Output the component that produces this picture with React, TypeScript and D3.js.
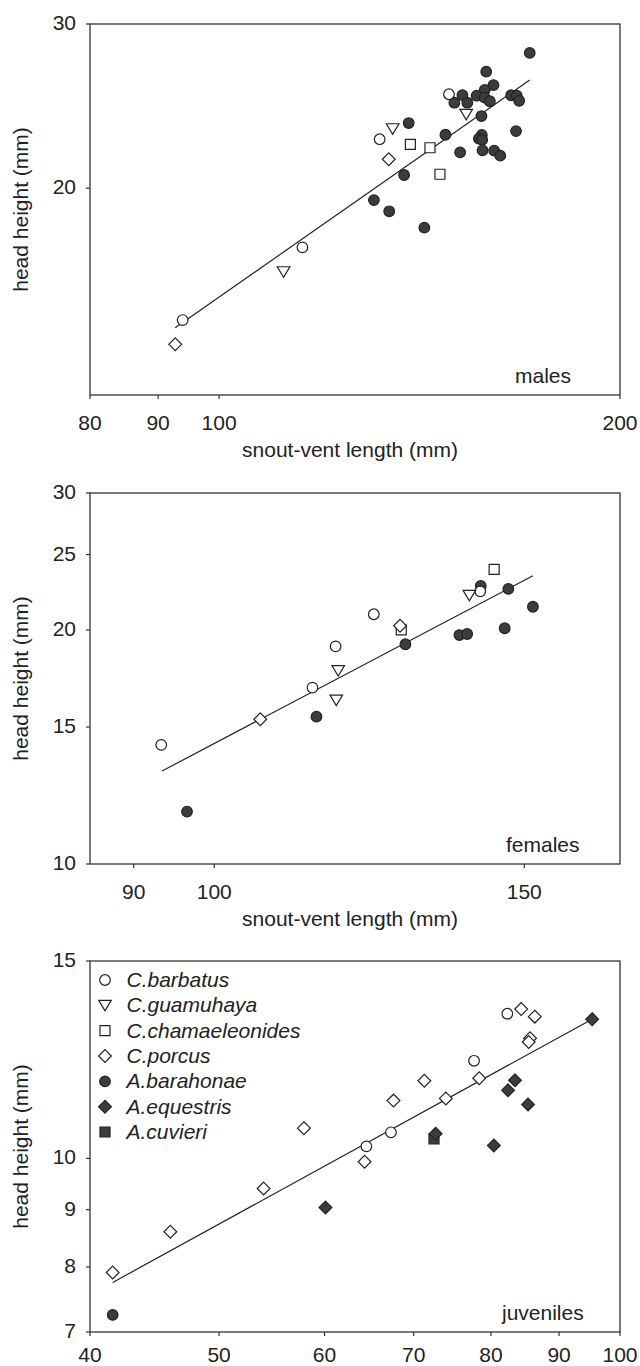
import React from 'react';
import * as d3 from 'd3';

// species, in legend order
const species = ['C.barbatus', 'C.guamuhaya', 'C.chamaeleonides', 'C.porcus', 'A.barahonae', 'A.equestris', 'A.cuvieri'];

// [snout-vent length (mm), head height (mm)]
const malesBarbatus = [[93.9, 14.44], [115.5, 17.28], [132.0, 22.57], [148.8, 25.22]];
const malesGuamuhaya = [[111.8, 16.27], [135.0, 23.16], [153.3, 24.0]];
const malesChamaeleonides = [[139.2, 22.29], [144.0, 22.1], [146.5, 20.7]];
const malesPorcus = [[92.7, 13.6], [134.1, 21.48]];
const malesBarahonae = [
  [171.1, 27.93], [158.7, 26.67], [160.7, 25.8], [158.3, 25.49], [156.1, 25.13], [152.3, 25.17],
  [158.3, 25.01], [159.7, 24.79], [150.2, 24.7], [153.6, 24.7], [165.7, 25.16], [167.3, 25.13],
  [168.0, 24.82], [157.4, 23.9], [138.8, 23.49], [147.9, 22.82], [167.1, 23.03], [157.5, 22.81],
  [156.7, 22.6], [157.6, 22.53], [151.7, 21.85], [157.7, 21.96], [160.9, 21.94], [162.6, 21.67],
  [137.7, 20.66], [130.7, 19.42], [134.2, 18.89], [142.6, 18.14],
];
const malesFit = [[92.7, 14.17], [171.1, 26.12]];

const femalesBarbatus = [[93.3, 14.23], [113.7, 16.86], [117.2, 19.05], [123.2, 20.95], [141.6, 22.42]];
const femalesGuamuhaya = [[117.6, 17.73], [117.3, 16.25], [139.6, 22.16]];
const femalesChamaeleonides = [[127.7, 20.0], [144.2, 23.93]];
const femalesPorcus = [[106.2, 15.35], [127.5, 20.25]];
const femalesBarahonae = [
  [96.5, 11.68], [114.3, 15.47], [128.4, 19.17], [137.8, 19.7], [139.2, 19.76],
  [141.7, 22.78], [146.9, 22.58], [146.2, 20.1], [151.7, 21.42],
];
const femalesFit = [[93.4, 13.17], [151.7, 23.48]];

const juvBarbatus = [[82.3, 13.46], [77.7, 12.22], [67.3, 10.55], [64.5, 10.25]];
const juvPorcus = [
  [41.6, 7.91], [45.96, 8.6], [54.0, 9.4], [57.9, 10.64], [64.3, 9.93], [67.6, 11.26], [71.3, 11.73],
  [74.0, 11.31], [78.4, 11.79], [84.3, 13.59], [86.3, 13.38], [85.6, 12.8], [85.4, 12.7],
];
const juvBarahonae = [[41.6, 7.25]];
const juvEquestris = [[60.1, 9.04], [72.7, 10.52], [80.4, 10.27], [82.4, 11.5], [83.4, 11.74], [85.3, 11.17], [95.3, 13.31]];
const juvCuvieri = [[72.5, 10.41]];
const juvFit = [[41.6, 7.75], [95.3, 13.31]];

const markerStyle: Record<string, { shape: string; fill: string }> = {
  'C.barbatus': { shape: 'circle', fill: '#ffffff' },
  'C.guamuhaya': { shape: 'triangle', fill: '#ffffff' },
  'C.chamaeleonides': { shape: 'square', fill: '#ffffff' },
  'C.porcus': { shape: 'diamond', fill: '#ffffff' },
  'A.barahonae': { shape: 'circle', fill: '#3c3c3c' },
  'A.equestris': { shape: 'diamond', fill: '#3c3c3c' },
  'A.cuvieri': { shape: 'square', fill: '#3c3c3c' },
};

const panels = [
  {
    label: 'males', labelX: 515, top: 24,
    xDomain: [80, 200], yDomain: [12, 30],
    xTicks: [80, 90, 100, 200], yTicks: [20, 30],
    xTitle: true, legend: false, fit: malesFit,
    // filled first, open on top
    series: [
      ['A.barahonae', malesBarahonae], ['C.barbatus', malesBarbatus], ['C.guamuhaya', malesGuamuhaya],
      ['C.chamaeleonides', malesChamaeleonides], ['C.porcus', malesPorcus],
    ],
  },
  {
    label: 'females', labelX: 506, top: 493,
    xDomain: [85, 170], yDomain: [10, 30],
    xTicks: [90, 100, 150], yTicks: [10, 15, 20, 25, 30],
    xTitle: true, legend: false, fit: femalesFit,
    series: [
      ['A.barahonae', femalesBarahonae], ['C.barbatus', femalesBarbatus], ['C.guamuhaya', femalesGuamuhaya],
      ['C.chamaeleonides', femalesChamaeleonides], ['C.porcus', femalesPorcus],
    ],
  },
  {
    label: 'juveniles', labelX: 502, top: 961,
    xDomain: [40, 100], yDomain: [7, 15],
    xTicks: [40, 50, 60, 70, 80, 90, 100], yTicks: [7, 8, 9, 10, 15],
    xTitle: false, legend: true, fit: juvFit,
    series: [
      ['A.barahonae', juvBarahonae], ['A.cuvieri', juvCuvieri], ['A.equestris', juvEquestris],
      ['C.barbatus', juvBarbatus], ['C.porcus', juvPorcus],
    ],
  },
];

const W = 640;
const H = 1366;
const left = 90;
const right = 620;
const ph = 371;
const ink = '#222';
const font = '"Liberation Sans", Arial, sans-serif';

function Marker({ kind, x, y }: { kind: string; x: number; y: number }) {
  const st = markerStyle[kind];
  const common = { fill: st.fill, stroke: ink, strokeWidth: 1.2 };
  if (st.shape === 'circle') return <circle cx={x} cy={y} r={5.3} {...common} />;
  let d = '';
  if (st.shape === 'square') d = 'M-5,-5H5V5H-5Z';
  if (st.shape === 'diamond') d = 'M0,-6.4L6.4,0L0,6.4L-6.4,0Z';
  if (st.shape === 'triangle') d = 'M-6.3,-5L6.3,-5L0,5.5Z';
  return <path d={d} transform={`translate(${x},${y})`} {...common} />;
}

function Panel({ p }: { p: any }) {
  const x = d3.scaleLog().domain(p.xDomain).range([left, right]);
  const y = d3.scaleLog().domain(p.yDomain).range([p.top + ph, p.top]);
  const bottom = p.top + ph;
  const line = d3.line<number[]>().x((d) => x(d[0])).y((d) => y(d[1]));
  const legendRow = d3.scaleLinear().domain([0, 6]).range([p.top + 19, p.top + 171]);
  // keep the last row of tick labels inside the page
  const tickBase = Math.min(bottom + 35, H - 4);

  return (
    <g>
      <rect x={left} y={p.top} width={right - left} height={ph} fill="none" stroke="#333" strokeWidth={1.3} />
      {p.xTicks.map((t: number) => (
        <g key={'x' + t}>
          <line x1={x(t)} x2={x(t)} y1={bottom} y2={bottom + 4} stroke="#333" strokeWidth={1.2} />
          <text x={x(t)} y={tickBase} textAnchor="middle" fontSize={21} fill={ink}>{t}</text>
        </g>
      ))}
      {p.yTicks.map((t: number) => (
        <g key={'y' + t}>
          <line x1={left - 4} x2={left} y1={y(t)} y2={y(t)} stroke="#333" strokeWidth={1.2} />
          <text x={76} y={y(t) + 6} textAnchor="end" fontSize={21} fill={ink}>{t}</text>
        </g>
      ))}
      <text transform={`translate(28,${p.top + ph / 2}) rotate(-90)`} textAnchor="middle" fontSize={21} fill={ink}>
        head height (mm)
      </text>
      {p.xTitle && (
        <text x={350} y={bottom + 62} textAnchor="middle" fontSize={21} fill={ink}>snout-vent length (mm)</text>
      )}
      <path d={line(p.fit) || ''} fill="none" stroke={ink} strokeWidth={1.2} />
      {p.series.map(([kind, pts]: [string, number[][]]) =>
        pts.map((d, i) => <Marker key={kind + i} kind={kind} x={x(d[0])} y={y(d[1])} />)
      )}
      <text x={p.labelX} y={bottom - 12} fontSize={21} fill={ink}>{p.label}</text>
      {p.legend &&
        species.map((s, i) => (
          <g key={s}>
            <Marker kind={s} x={105} y={legendRow(i)} />
            <text x={126.5} y={legendRow(i) + 7} fontSize={21} fontStyle="italic" fill={ink}>{s}</text>
          </g>
        ))}
    </g>
  );
}

export default function App() {
  return (
    <svg
      width={W}
      height={H}
      viewBox={`0 0 ${W} ${H}`}
      style={{ position: 'absolute', left: 0, top: 0, background: '#fff', fontFamily: font }}
    >
      <rect width={W} height={H} fill="#fff" />
      {panels.map((p) => (
        <Panel key={p.label} p={p} />
      ))}
    </svg>
  );
}
